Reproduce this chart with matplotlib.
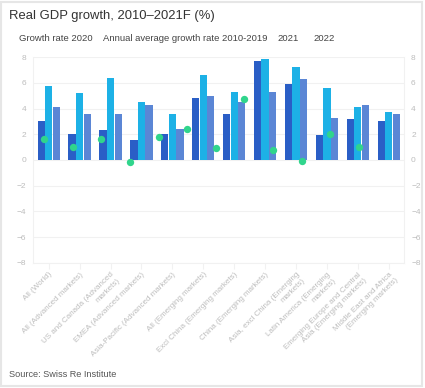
import matplotlib
matplotlib.use("Agg")
import matplotlib.pyplot as plt
import numpy as np
from matplotlib.patches import Rectangle

plt.rcParams["font.family"] = ["Liberation Sans", "DejaVu Sans"]

categories = [
    "All (World)",
    "All (Advanced markets)",
    "US and Canada (Advanced\nmarkets)",
    "EMEA (Advanced markets)",
    "Asia-Pacific (Advanced markets)",
    "All (Emerging markets)",
    "Excl China (Emerging markets)",
    "China (Emerging markets)",
    "Asia, excl China (Emerging\nmarkets)",
    "Latin America (Emerging\nmarkets)",
    "Emerging Europe and Central\nAsia (Emerging markets)",
    "Middle East and Africa\n(Emerging markets)",
]
growth_2020 = [1.6, 1.0, 1.65, -0.15, 1.8, 2.4, 0.9, 4.75, 0.75, -0.1, 2.0, 1.0]
avg_2010_2019 = [3.05, 2.05, 2.35, 1.55, 2.05, 4.8, 3.55, 7.7, 5.95, 1.95, 3.2, 3.05]
f_2021 = [5.8, 5.2, 6.4, 4.55, 3.55, 6.6, 5.3, 7.9, 7.25, 5.6, 4.1, 3.75]
f_2022 = [4.1, 3.6, 3.55, 4.3, 2.45, 4.95, 4.5, 5.3, 6.3, 3.3, 4.25, 3.6]
legend_labels = ["Growth rate 2020", "Annual average growth rate 2010-2019", "2021", "2022"]
yticks = list(range(-8, 9, 2))

c_dark, c_cyan, c_mid, c_dot = "#2a5ec6", "#1db1e6", "#5b86d5", "#30d58c"
light = "#bdbdbd"
grid = "#f1f1f1"

fig = plt.figure(figsize=(4.25, 3.88), dpi=100)
ax = fig.add_axes([0.0784, 0.323, 0.8726, 0.5293])

x = np.arange(len(categories))
w = 0.235
for off, vals, col in [(-w - 0.01, avg_2010_2019, c_dark), (0, f_2021, c_cyan),
                       (w + 0.01, f_2022, c_mid)]:
    ax.bar(x + off, vals, width=w, color=col, zorder=2)

# the dots in the original sit on a slightly narrower category spacing
xd = x * 0.926 - 0.15
ax.scatter(xd, growth_2020, s=28, color=c_dot, zorder=3, linewidths=0)

ax.set_xlim(-0.5, len(categories) - 0.5)
ax.set_ylim(-8, 8)
ax.set_yticks(yticks)
ax.grid(axis="y", color=grid, linewidth=0.8, zorder=0)
ax.tick_params(axis="y", length=0, labelsize=6, labelcolor=light, pad=5,
               right=True, labelright=True)
ax.set_xticks(x)
ax.set_xticklabels(categories, rotation=45, ha="right", rotation_mode="anchor",
                   fontsize=5.8, color=light, multialignment="right")
ax.tick_params(axis="x", length=4, color=grid, pad=2)
for s in ax.spines.values():
    s.set_color(grid)
    s.set_linewidth(0.8)
ax.spines["top"].set_visible(False)

fig.text(0.021, 0.958, "Real GDP growth, 2010\u20132021F (%)", fontsize=9.4,
         color="#333333", va="center")
lx = [0.044, 0.243, 0.654, 0.737]
for xi, lab in zip(lx, legend_labels):
    fig.text(xi, 0.901, lab, fontsize=6.8, color="#444444", va="center")
fig.text(0.021, 0.036, "Source: Swiss Re Institute", fontsize=6.6, color="#555555",
         va="center")

fig.patches.append(Rectangle((0.002, 0.004), 0.992, 0.99, transform=fig.transFigure,
                             fill=False, edgecolor="#e6e6e6", linewidth=1.5))

fig.savefig("out.png", dpi=100)
